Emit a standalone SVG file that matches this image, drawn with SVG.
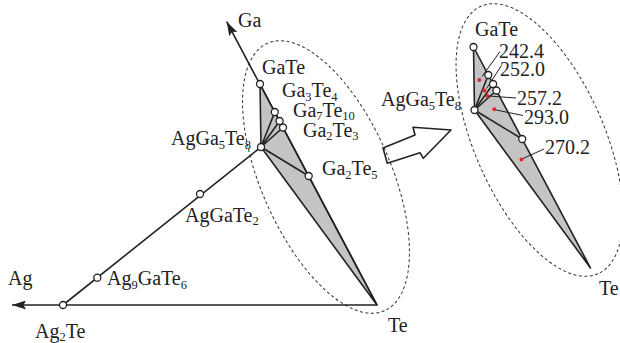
<svg xmlns="http://www.w3.org/2000/svg" width="620" height="343" viewBox="0 0 620 343" font-family="'Liberation Serif', 'Times New Roman', Times, serif">
<style>
.ln{stroke:#222;stroke-width:1.6;fill:none;stroke-linejoin:round}
.thin{stroke:#222;stroke-width:1;fill:none}
.gray{fill:#c4c4c4;stroke:#222;stroke-width:1.6;stroke-linejoin:round}
.node{fill:#fff;stroke:#222;stroke-width:1.3}
.dash{fill:none;stroke:#333;stroke-width:1;stroke-dasharray:3 2.5}
.red{fill:#e3262b}
.t{font-family:'Liberation Serif','Times New Roman',Times,serif;font-size:20px;fill:#222}
.sub{font-size:12.5px}
</style>
<defs>
<marker id="ah" viewBox="0 0 14 9" refX="14" refY="4.5" markerWidth="14" markerHeight="9" markerUnits="userSpaceOnUse" orient="auto">
<path d="M0,0 L14,4.5 L0,9 L2.5,4.5 z" fill="#222"/>
</marker>
</defs>
<rect width="620" height="343" fill="#fff"/>

<ellipse class="dash" cx="326" cy="177" rx="146" ry="65" transform="rotate(66.4 326 177)"/>
<ellipse class="dash" cx="539.5" cy="140" rx="146" ry="65" transform="rotate(66.4 539.5 140)"/>

<g id="connectors">
<polygon class="gray" points="260,84 261,147 377,305"/>
<line class="ln" x1="377" y1="305" x2="12" y2="305" marker-end="url(#ah)"/>
<line class="ln" x1="377" y1="305" x2="226.7" y2="21.7" marker-end="url(#ah)"/>
<line class="ln" x1="63" y1="305" x2="261" y2="147"/>
<line class="ln" x1="261" y1="147" x2="274.8" y2="112"/>
<line class="ln" x1="261" y1="147" x2="279.6" y2="121"/>
<line class="ln" x1="261" y1="147" x2="283" y2="127.5"/>
<line class="ln" x1="261" y1="147" x2="308.7" y2="176"/>
<polygon class="gray" points="473.5,47 474.5,110 590.5,268"/>
<line class="ln" x1="474.5" y1="110" x2="488.3" y2="75"/>
<line class="ln" x1="474.5" y1="110" x2="493.1" y2="84"/>
<line class="ln" x1="474.5" y1="110" x2="496.5" y2="90.5"/>
<line class="ln" x1="474.5" y1="110" x2="522.2" y2="139"/>
<line class="thin" x1="482" y1="76.5" x2="500" y2="51.5"/>
<line class="thin" x1="486.5" y1="88.5" x2="501.5" y2="65.5"/>
<line class="thin" x1="489" y1="96" x2="516" y2="98"/>
<line class="thin" x1="496" y1="110" x2="523" y2="115.5"/>
<line class="thin" x1="523" y1="158.5" x2="544" y2="149"/>
<polygon class="ln" points="383,148 415,135 413,127.3 451,130 423.3,158.3 420,152.7 387.3,163.3"/>
</g>

<g id="Ga"><text class="t" x="238" y="27">Ga</text></g>
<g id="Ag"><text class="t" x="8" y="284.5">Ag</text></g>
<g id="Te-L"><text class="t" x="388" y="332">Te</text></g>
<g id="GaTe-L"><circle class="node" cx="260" cy="84" r="3.5"/><text class="t" x="262" y="73.5">GaTe</text></g>
<g id="Ga3Te4-L"><circle class="node" cx="274.8" cy="112" r="3.5"/><text class="t" x="282" y="97">Ga<tspan class="sub" dy="3.5">3</tspan><tspan dy="-3.5">Te</tspan><tspan class="sub" dy="3.5">4</tspan></text></g>
<g id="Ga7Te10-L"><circle class="node" cx="279.6" cy="121" r="3.5"/><text class="t" x="293" y="116.5">Ga<tspan class="sub" dy="3.5">7</tspan><tspan dy="-3.5">Te</tspan><tspan class="sub" dy="3.5">10</tspan></text></g>
<g id="Ga2Te3-L"><circle class="node" cx="283" cy="127.5" r="3.5"/><text class="t" x="303" y="136.5">Ga<tspan class="sub" dy="3.5">2</tspan><tspan dy="-3.5">Te</tspan><tspan class="sub" dy="3.5">3</tspan></text></g>
<g id="Ga2Te5-L"><circle class="node" cx="308.7" cy="176" r="3.5"/><text class="t" x="322" y="175">Ga<tspan class="sub" dy="3.5">2</tspan><tspan dy="-3.5">Te</tspan><tspan class="sub" dy="3.5">5</tspan></text></g>
<g id="AgGa5Te8-L"><circle class="node" cx="261" cy="147" r="3.5"/><text class="t" x="171" y="145">AgGa<tspan class="sub" dy="3.5">5</tspan><tspan dy="-3.5">Te</tspan><tspan class="sub" dy="3.5">8</tspan></text></g>
<g id="AgGaTe2"><circle class="node" cx="200" cy="194" r="3.5"/><text class="t" x="185" y="221.5">AgGaTe<tspan class="sub" dy="3.5">2</tspan></text></g>
<g id="Ag9GaTe6"><circle class="node" cx="97.3" cy="277.7" r="3.5"/><text class="t" x="107" y="285">Ag<tspan class="sub" dy="3.5">9</tspan><tspan dy="-3.5">GaTe</tspan><tspan class="sub" dy="3.5">6</tspan></text></g>
<g id="Ag2Te"><circle class="node" cx="63" cy="305" r="3.5"/><text class="t" x="35" y="337.5">Ag<tspan class="sub" dy="3">2</tspan><tspan dy="-3">Te</tspan></text></g>

<g id="GaTe-R"><circle class="node" cx="473.5" cy="47" r="3.5"/><text class="t" x="475" y="36">GaTe</text></g>
<g id="Ga3Te4-R"><circle class="node" cx="488.3" cy="75" r="3.5"/></g>
<g id="Ga7Te10-R"><circle class="node" cx="493.1" cy="84" r="3.5"/></g>
<g id="Ga2Te3-R"><circle class="node" cx="496.5" cy="90.5" r="3.5"/></g>
<g id="Ga2Te5-R"><circle class="node" cx="522.2" cy="139" r="3.5"/></g>
<g id="AgGa5Te8-R"><circle class="node" cx="474.5" cy="110" r="3.5"/><text class="t" x="381" y="106">AgGa<tspan class="sub" dy="3.5">5</tspan><tspan dy="-3.5">Te</tspan><tspan class="sub" dy="3.5">8</tspan></text></g>
<g id="Te-R"><text class="t" x="599" y="295">Te</text></g>

<g id="points">
<circle class="red" cx="479.3" cy="80" r="2"/>
<circle class="red" cx="484.3" cy="90.5" r="2"/>
<circle class="red" cx="487.3" cy="96" r="2"/>
<circle class="red" cx="494.3" cy="109.3" r="2"/>
<circle class="red" cx="521.5" cy="159.5" r="2"/>
<text class="t" x="499" y="57.5">242.4</text>
<text class="t" x="500" y="75.5">252.0</text>
<text class="t" x="517" y="105">257.2</text>
<text class="t" x="524" y="123.5">293.0</text>
<text class="t" x="545" y="154">270.2</text>
</g>
</svg>
